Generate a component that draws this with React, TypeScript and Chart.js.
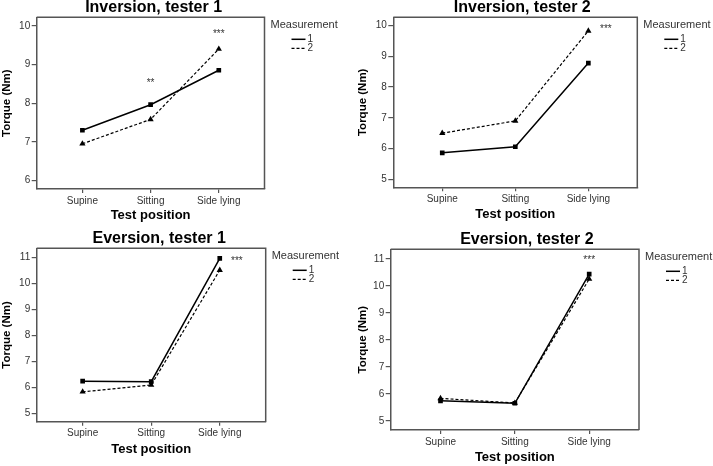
import React, { useEffect, useRef } from 'react';
import { Chart, registerables } from 'chart.js';

Chart.register(...registerables);

// ---------- data ----------
const categories = ['Supine', 'Sitting', 'Side lying'];
const seriesLabels = ['1', '2'];
const legendTitle = 'Measurement';
const xAxisTitle = 'Test position';
const yAxisTitle = 'Torque (Nm)';

const inversionTester1M1 = [7.3, 7.96, 8.85];
const inversionTester1M2 = [6.95, 7.58, 9.4];
const inversionTester1Ticks = [6, 7, 8, 9, 10];
const inversionTester1StarX = [1, 2];
const inversionTester1StarY = [8.59, 9.85];
const inversionTester1Stars = ['**', '***'];

const inversionTester2M1 = [5.86, 6.06, 8.78];
const inversionTester2M2 = [6.5, 6.9, 9.83];
const inversionTester2Ticks = [5, 6, 7, 8, 9, 10];
const inversionTester2StarX = [2.24];
const inversionTester2StarY = [9.97];
const inversionTester2Stars = ['***'];

const eversionTester1M1 = [6.24, 6.22, 10.96];
const eversionTester1M2 = [5.83, 6.09, 10.51];
const eversionTester1Ticks = [5, 6, 7, 8, 9, 10, 11];
const eversionTester1StarX = [2.25];
const eversionTester1StarY = [10.96];
const eversionTester1Stars = ['***'];

const eversionTester2M1 = [5.74, 5.65, 10.43];
const eversionTester2M2 = [5.83, 5.66, 10.25];
const eversionTester2Ticks = [5, 6, 7, 8, 9, 10, 11];
const eversionTester2StarX = [2];
const eversionTester2StarY = [11.05];
const eversionTester2Stars = ['***'];

// ---------- layout ----------
const FONT = "'Liberation Sans', Arial, sans-serif";
const TEXT = '#333';
const AXIS = '#555';

type PanelCfg = {
  title: string;
  m1: number[];
  m2: number[];
  ticks: number[];
  starX: number[];
  starY: number[];
  stars: string[];
  canvas: { x: number; y: number; w: number; h: number };
  area: { l: number; t: number; r: number; b: number };
  yMin: number;
  yMax: number;
  titleDx: number;
  xTitlePad: number;
};

const panels: PanelCfg[] = [
  {
    title: 'Inversion, tester 1',
    m1: inversionTester1M1, m2: inversionTester1M2, ticks: inversionTester1Ticks,
    starX: inversionTester1StarX, starY: inversionTester1StarY, stars: inversionTester1Stars,
    canvas: { x: 0, y: 0, w: 356, h: 226 },
    area: { l: 36.7, t: 17.3, r: 264.5, b: 189 },
    yMin: 5.78, yMax: 10.22, titleDx: 3, xTitlePad: 3,
  },
  {
    title: 'Inversion, tester 2',
    m1: inversionTester2M1, m2: inversionTester2M2, ticks: inversionTester2Ticks,
    starX: inversionTester2StarX, starY: inversionTester2StarY, stars: inversionTester2Stars,
    canvas: { x: 356, y: 0, w: 357, h: 226 },
    area: { l: 393.3, t: 17.3, r: 637.3, b: 187.3 },
    yMin: 4.74, yMax: 10.27, titleDx: 7, xTitlePad: 3.5,
  },
  {
    title: 'Eversion, tester 1',
    m1: eversionTester1M1, m2: eversionTester1M2, ticks: eversionTester1Ticks,
    starX: eversionTester1StarX, starY: eversionTester1StarY, stars: eversionTester1Stars,
    canvas: { x: 0, y: 226, w: 356, h: 240 },
    area: { l: 36.7, t: 248.3, r: 265.7, b: 421.7 },
    yMin: 4.68, yMax: 11.35, titleDx: 8, xTitlePad: 9,
  },
  {
    title: 'Eversion, tester 2',
    m1: eversionTester2M1, m2: eversionTester2M2, ticks: eversionTester2Ticks,
    starX: eversionTester2StarX, starY: eversionTester2StarY, stars: eversionTester2Stars,
    canvas: { x: 356, y: 226, w: 357, h: 240 },
    area: { l: 390.7, t: 249.3, r: 639, b: 430 },
    yMin: 4.66, yMax: 11.35, titleDx: 12, xTitlePad: 1,
  },
];

function Panel({ cfg }: { cfg: PanelCfg }) {
  const ref = useRef<HTMLCanvasElement>(null);
  useEffect(() => {
    const c = cfg;
    const padTop = c.area.t - c.canvas.y;
    const padRight = c.canvas.x + c.canvas.w - c.area.r;
    const yAxisW = c.area.l - c.canvas.x;
    const xAxisH = c.canvas.y + c.canvas.h - c.area.b;

    const decor = {
      id: 'decor',
      afterDraw(chart: any) {
        const ctx = chart.ctx as CanvasRenderingContext2D;
        const a = chart.chartArea;
        const xs = chart.scales.x;
        const ys = chart.scales.y;
        ctx.save();
        // top and right frame
        ctx.strokeStyle = AXIS;
        ctx.lineWidth = 1.5;
        ctx.beginPath();
        ctx.moveTo(a.left, a.top);
        ctx.lineTo(a.right, a.top);
        ctx.lineTo(a.right, a.bottom);
        ctx.stroke();
        // title
        ctx.fillStyle = '#000';
        ctx.font = `bold 16px ${FONT}`;
        ctx.textAlign = 'center';
        ctx.textBaseline = 'middle';
        ctx.fillText(c.title, (a.left + a.right) / 2 + c.titleDx, a.top - 10);
        // significance stars
        ctx.fillStyle = TEXT;
        ctx.font = `10px ${FONT}`;
        ctx.textBaseline = 'alphabetic';
        c.stars.forEach((s, i) => {
          const px = xs.getPixelForValue(c.starX[i]);
          const py = ys.getPixelForValue(c.starY[i]);
          ctx.fillText(s, px, py + 5.8);
        });
        // legend
        ctx.textAlign = 'left';
        ctx.textBaseline = 'middle';
        ctx.font = `11px ${FONT}`;
        ctx.fillStyle = TEXT;
        ctx.fillText(legendTitle, a.right + 6, a.top + 8);
        ctx.font = `10px ${FONT}`;
        const rows = [
          { y: a.top + 22, dash: [] as number[], w: 1.5 },
          { y: a.top + 31, dash: [3, 2], w: 1.2 },
        ];
        rows.forEach((r, i) => {
          ctx.strokeStyle = '#000';
          ctx.lineWidth = r.w;
          ctx.setLineDash(r.dash);
          ctx.beginPath();
          ctx.moveTo(a.right + 27, r.y);
          ctx.lineTo(a.right + 41, r.y);
          ctx.stroke();
          ctx.setLineDash([]);
          ctx.fillText(seriesLabels[i], a.right + 43, r.y);
        });
        ctx.restore();
      },
    };

    const chart = new Chart(ref.current as HTMLCanvasElement, {
      type: 'scatter',
      data: {
        datasets: [
          {
            label: seriesLabels[0],
            data: categories.map((_, i) => ({ x: i, y: c.m1[i] })),
            showLine: true,
            borderColor: '#000',
            borderWidth: 1.5,
            pointStyle: 'rect',
            pointRadius: 3.3,
            pointBackgroundColor: '#000',
            pointBorderColor: '#000',
            pointBorderWidth: 0,
          },
          {
            label: seriesLabels[1],
            data: categories.map((_, i) => ({ x: i, y: c.m2[i] })),
            showLine: true,
            borderColor: '#000',
            borderWidth: 1.2,
            borderDash: [3, 2],
            pointStyle: 'triangle',
            pointRadius: 3.6,
            pointBackgroundColor: '#000',
            pointBorderColor: '#000',
            pointBorderWidth: 0,
          },
        ],
      },
      options: {
        animation: false,
        responsive: false,
        events: [],
        layout: { padding: { top: padTop, right: padRight, left: 0, bottom: 0 } },
        plugins: {
          legend: { display: false },
          tooltip: { enabled: false },
          title: { display: false },
        },
        scales: {
          x: {
            type: 'linear',
            min: -0.67,
            max: 2.67,
            afterBuildTicks: (s: any) => {
              s.ticks = categories.map((_, i) => ({ value: i }));
            },
            afterFit: (s: any) => {
              s.height = xAxisH;
            },
            ticks: {
              callback: (v: any) => categories[v as number] ?? '',
              font: { family: FONT, size: 10 },
              color: TEXT,
              padding: 2,
              maxRotation: 0,
              autoSkip: false,
            },
            grid: { drawOnChartArea: false, drawTicks: true, tickLength: 4, color: AXIS, lineWidth: 1.2 },
            border: { display: true, color: AXIS, width: 1.5 },
            title: {
              display: true,
              text: xAxisTitle,
              font: { family: FONT, size: 13, weight: 'bold' },
              color: '#000',
              padding: { top: 0, bottom: c.xTitlePad },
            },
          },
          y: {
            type: 'linear',
            min: c.yMin,
            max: c.yMax,
            afterBuildTicks: (s: any) => {
              s.ticks = c.ticks.map((v) => ({ value: v }));
            },
            afterFit: (s: any) => {
              s.width = yAxisW;
            },
            ticks: {
              font: { family: FONT, size: 10 },
              color: TEXT,
              padding: 1.5,
            },
            grid: { drawOnChartArea: false, drawTicks: true, tickLength: 5, color: AXIS, lineWidth: 1.2 },
            border: { display: true, color: AXIS, width: 1.5 },
            title: {
              display: true,
              text: yAxisTitle,
              font: { family: FONT, size: 11.5, weight: 'bold' },
              color: '#000',
              padding: { top: 0, bottom: 0 },
            },
          },
        },
      },
      plugins: [decor],
    } as any);
    return () => chart.destroy();
  }, [cfg]);

  return (
    <canvas
      ref={ref}
      width={cfg.canvas.w}
      height={cfg.canvas.h}
      style={{
        position: 'absolute',
        left: cfg.canvas.x,
        top: cfg.canvas.y,
        width: cfg.canvas.w,
        height: cfg.canvas.h,
      }}
    />
  );
}

export default function App() {
  return (
    <div
      style={{
        position: 'absolute',
        left: 0,
        top: 0,
        width: 713,
        height: 466,
        background: '#fff',
        overflow: 'hidden',
      }}
    >
      {panels.map((p) => (
        <Panel key={p.title} cfg={p} />
      ))}
    </div>
  );
}
